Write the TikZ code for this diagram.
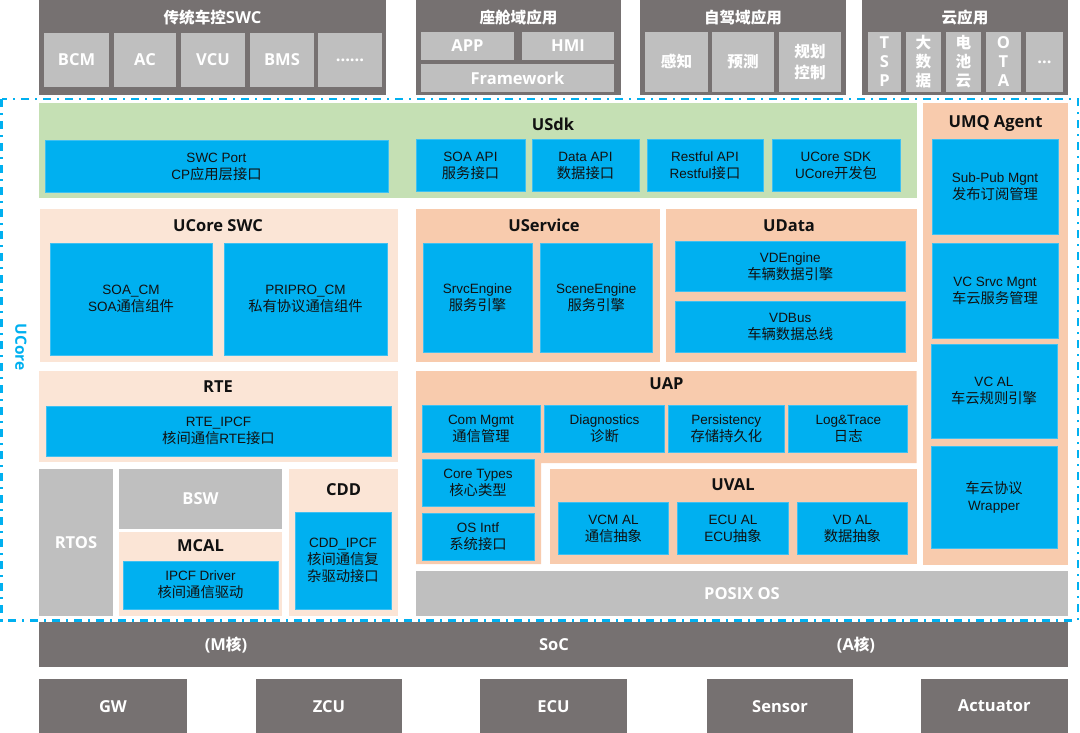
\documentclass[tikz,border=0pt]{standalone}
\usepackage{fontspec}
\setmainfont{Liberation Sans}
\newfontfamily\cjk{Noto Sans CJK SC}[Scale=1.06]
\newfontfamily\cjkt{Noto Sans CJK SC}[Scale=0.945]
\newfontfamily\tfont{Open Sans}
\newcommand\cj[1]{{\cjk #1}}
\newcommand\cjt[1]{{\cjkt #1}}
\definecolor{cblue}{HTML}{00B0F0}
\definecolor{cbluel}{HTML}{3EC0F2}
\definecolor{cdk}{HTML}{767171}
\definecolor{clg}{HTML}{BFBFBF}
\definecolor{cgreen}{HTML}{C5E0B4}
\definecolor{cpk}{HTML}{F8CBAD}
\definecolor{clp}{HTML}{FBE5D6}
\definecolor{ctxt}{HTML}{111111}
\newcommand{\bx}[7]{\node[#2, minimum width={(#5)-(#3)}, minimum height={(#6)-(#4)}] (#1) at (#3,#4) {#7};}
\tikzset{
  box/.style={inner sep=0pt, outer sep=0pt, anchor=north west, align=center},
  bfnt/.style={font=\tfont\bfseries\fontsize{16.5}{19}\selectfont},
  dk/.style={box, fill=cdk, text=white, bfnt},
  lgw/.style={box, fill=clg, text=white, bfnt},
  grn/.style={box, fill=cgreen},
  pk/.style={box, fill=cpk},
  lp/.style={box, fill=clp},
  blu/.style={box, fill=cblue, draw=cbluel, line width=0.8pt, text=ctxt,
    font=\fontsize{13.5}{17}\selectfont},
  ttl/.style={inner sep=0pt, text=ctxt, bfnt},
  ttlw/.style={inner sep=0pt, text=white, bfnt},
  ucdash/.style={draw=cblue, line width=2.2pt, dash pattern=on 8pt off 6pt on 2pt off 6pt}
}
\begin{document}
\begin{tikzpicture}[x=1pt,y=-1pt]
\useasboundingbox (0,0) rectangle (1080,733);
% ---------- top application groups ----------
\bx{g1}{dk}{39}{0}{386}{95}{}
\node[ttlw] (g1t) at (212.5,18) {\cjt{传统车控}SWC};
\bx{bcm}{lgw}{44}{33}{109}{87}{BCM}
\bx{ac}{lgw}{114}{33}{176}{87}{AC}
\bx{vcu}{lgw}{181}{33}{245}{87}{VCU}
\bx{bms}{lgw}{250}{33}{314}{87}{BMS}
\bx{etca}{lgw}{318}{33}{382}{87}{......}
\bx{g2}{dk}{416}{0}{621}{95}{}
\node[ttlw] (g2t) at (518.5,18) {\cjt{座舱域应用}};
\bx{app}{lgw}{421}{32}{514}{60}{APP}
\bx{hmi}{lgw}{522}{32}{614}{60}{HMI}
\bx{fw}{lgw}{421}{64}{614}{92}{Framework}
\bx{g3}{dk}{640}{0}{846}{95}{}
\node[ttlw] (g3t) at (743,18) {\cjt{自驾域应用}};
\bx{gz}{lgw}{645}{32}{708}{92}{\cjt{感知}}
\bx{yc}{lgw}{712}{32}{774}{92}{\cjt{预测}}
\bx{gh}{lgw}{779}{32}{841}{92}{\cjt{规划}\\[2pt]\cjt{控制}}
\bx{g4}{dk}{862}{0}{1068}{95}{}
\node[ttlw] (g4t) at (965,18) {\cjt{云应用}};
\bx{tsp}{lgw}{868}{32}{901}{92}{T\\S\\P}
\bx{dsj}{lgw}{906}{32}{941}{92}{\cjt{大}\\\cjt{数}\\\cjt{据}}
\bx{dcy}{lgw}{946}{32}{981}{92}{\cjt{电}\\\cjt{池}\\\cjt{云}}
\bx{ota}{lgw}{986}{32}{1021}{92}{O\\T\\A}
\bx{etcb}{lgw}{1026}{32}{1063}{92}{...}
% ---------- UCore boundary ----------
\draw[ucdash] (1.5,99.3) rectangle (1078,620.5);
\node[rotate=-90, text=cblue, inner sep=0pt, font=\tfont\bfseries\fontsize{15.5}{18}\selectfont] (ucl) at (21,347) {UCore};
% ---------- USdk ----------
\bx{usdk}{grn}{39}{103}{916.5}{198}{}
\node[ttl] (usdkt) at (553,124) {USdk};
\bx{swcp}{blu}{45}{140.7}{388}{192.7}{SWC Port\\CP\cj{应用层接口}}
\bx{soaapi}{blu}{416}{139.3}{525}{191.7}{SOA API\\\cj{服务接口}}
\bx{dataapi}{blu}{532}{139.3}{639}{191.7}{Data API\\\cj{数据接口}}
\bx{restapi}{blu}{647}{139.3}{763}{191.7}{Restful API\\Restful\cj{接口}}
\bx{sdk}{blu}{772}{139.3}{900}{191.7}{UCore SDK\\UCore\cj{开发包}}
% ---------- UMQ Agent ----------
\bx{umq}{pk}{923}{103}{1068}{565}{}
\node[ttl] (umqt) at (995.5,124) {UMQ Agent};
\bx{subpub}{blu}{932}{139}{1058}{234}{Sub-Pub Mgnt\\\cj{发布订阅管理}}
\bx{vcsrvc}{blu}{932}{243}{1058}{338}{VC Srvc Mgnt\\\cj{车云服务管理}}
\bx{vcal}{blu}{931}{344}{1057}{438}{VC AL\\\cj{车云规则引擎}}
\bx{wrap}{blu}{931}{446}{1057}{548}{\cj{车云协议}\\Wrapper}
% ---------- UCore SWC ----------
\bx{uswc}{lp}{40}{209}{398}{362}{}
\node[ttl] (uswct) at (218,226) {UCore SWC};
\bx{soacm}{blu}{50}{243}{212}{355}{SOA\_CM\\SOA\cj{通信组件}}
\bx{pricm}{blu}{224}{243}{387}{355}{PRIPRO\_CM\\\cj{私有协议通信组件}}
% ---------- UService ----------
\bx{usrv}{pk}{416}{209}{660}{362}{}
\node[ttl] (usrvt) at (544,225) {UService};
\bx{srvce}{blu}{423}{243.3}{532}{352.3}{SrvcEngine\\\cj{服务引擎}}
\bx{scene}{blu}{540}{243.3}{652.5}{352.3}{SceneEngine\\\cj{服务引擎}}
% ---------- UData ----------
\bx{udata}{pk}{666}{209}{916.5}{362}{}
\node[ttl] (udatat) at (789,226) {UData};
\bx{vdeng}{blu}{675.5}{241.7}{905}{291.7}{VDEngine\\\cj{车辆数据引擎}}
\bx{vdbus}{blu}{675.5}{301.7}{905}{352.3}{VDBus\\\cj{车辆数据总线}}
% ---------- RTE ----------
\bx{rte}{lp}{39}{371}{398}{462}{}
\node[ttl] (rtet) at (218,387) {RTE};
\bx{rteipcf}{blu}{46}{406.7}{391}{456}{RTE\_IPCF\\\cj{核间通信}RTE\cj{接口}}
% ---------- RTOS / BSW / MCAL / CDD ----------
\bx{rtos}{lgw}{39}{469}{113}{616}{RTOS}
\bx{bsw}{lgw}{119}{469}{282}{529}{BSW}
\bx{mcal}{lp}{119}{532}{282}{616}{}
\node[ttl] (mcalt) at (200.5,546) {MCAL};
\bx{ipcfdrv}{blu}{123}{561}{278}{609}{IPCF Driver\\\cj{核间通信驱动}}
\bx{cdd}{lp}{289}{469}{398}{616}{}
\node[ttl] (cddt) at (343.5,490) {CDD};
\bx{cddipcf}{blu}{295}{512}{391}{609}{CDD\_IPCF\\\cj{核间通信复}\\\cj{杂驱动接口}}
% ---------- UAP ----------
\fill[cpk] (416,371) -- (916.5,371) -- (916.5,463) -- (541,463) -- (541,564) -- (416,564) -- cycle;
\node[ttl] (uapt) at (666.5,384) {UAP};
\bx{commgmt}{blu}{422}{405.3}{540}{452.7}{Com Mgmt\\\cj{通信管理}}
\bx{diag}{blu}{544.7}{405.3}{664.4}{452.7}{Diagnostics\\\cj{诊断}}
\bx{pers}{blu}{668}{405.3}{784.7}{452.7}{Persistency\\\cj{存储持久化}}
\bx{logt}{blu}{788.8}{405.3}{907.8}{452.7}{Log\&Trace\\\cj{日志}}
\bx{coret}{blu}{422}{459.7}{534}{506}{Core Types\\\cj{核心类型}}
\bx{osintf}{blu}{422}{513.3}{534}{560.7}{OS Intf\\\cj{系统接口}}
% ---------- UVAL ----------
\bx{uval}{pk}{550}{469}{916.5}{564.3}{}
\node[ttl] (uvalt) at (733,485) {UVAL};
\bx{vcmal}{blu}{558}{502.3}{668.8}{554.7}{VCM AL\\\cj{通信抽象}}
\bx{ecual}{blu}{677.6}{502.3}{788.4}{554.7}{ECU AL\\ECU\cj{抽象}}
\bx{vdal}{blu}{797}{502.3}{907.8}{554.7}{VD AL\\\cj{数据抽象}}
% ---------- POSIX ----------
\bx{posix}{lgw}{416}{571}{1068}{615.7}{POSIX OS}
% ---------- SoC ----------
\bx{soc}{dk}{39}{622.3}{1067.5}{667.3}{}
\node[ttlw] (mcore) at (226,645) {(M\cjt{核})};
\node[ttlw] (soct) at (554,645) {SoC};
\node[ttlw] (acore) at (856,645) {(A\cjt{核})};
% ---------- bottom devices ----------
\bx{gw}{dk}{39}{679.3}{187}{733}{GW}
\bx{zcu}{dk}{256}{679.3}{402}{733}{ZCU}
\bx{ecu}{dk}{480}{679.3}{627}{733}{ECU}
\bx{sensor}{dk}{707}{679.3}{853}{733}{Sensor}
\bx{act}{dk}{921}{679.3}{1067.5}{733}{Actuator}
\end{tikzpicture}
\end{document}
